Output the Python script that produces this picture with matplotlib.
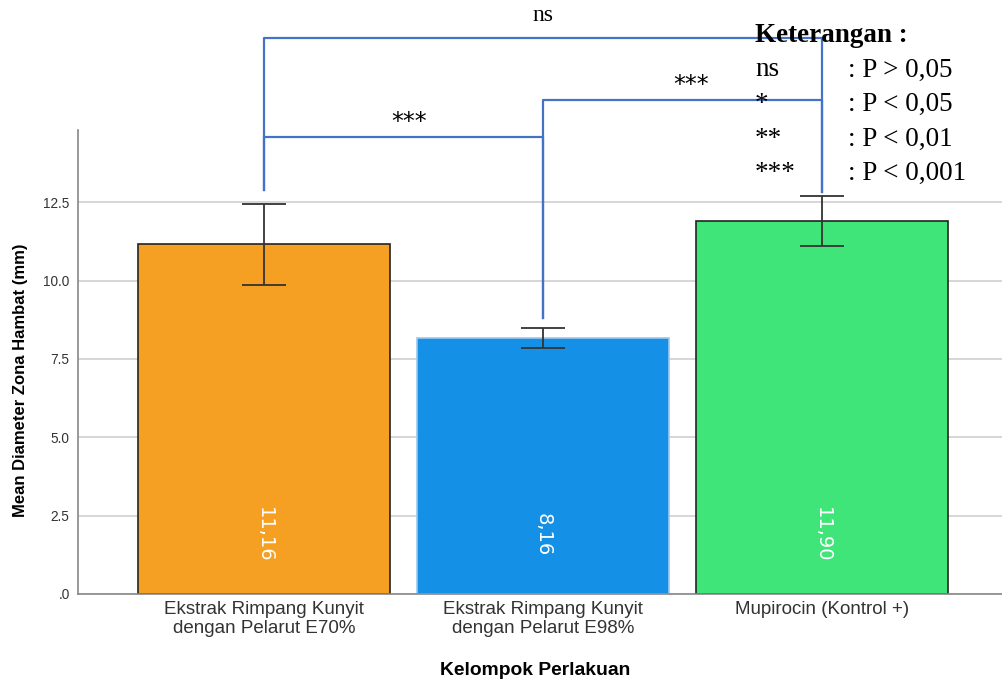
import numpy as np
import matplotlib.pyplot as plt

# data
groups = ["Ekstrak Rimpang Kunyit\ndengan Pelarut E70%",
          "Ekstrak Rimpang Kunyit\ndengan Pelarut E98%",
          "Mupirocin (Kontrol +)"]
means = [11.16, 8.16, 11.90]
errs = [1.29, 0.32, 0.80]
value_labels = ["11,16", "8,16", "11,90"]
bar_colors = ["#F5A023", "#1490E6", "#40E57A"]
edge_colors = ["#222222", "#9CC8EE", "#222222"]

# significance brackets: (left bar, right bar, height, left foot, right foot, label)
brackets = [
    (0, 2, 17.73, 12.88, 12.82, "ns"),
    (0, 1, 14.57, 12.88, 8.80, "***"),
    (1, 2, 15.78, 8.80, 12.82, "***"),
]
legend_rows = [("ns", ": P > 0,05"), ("*", ": P < 0,05"),
               ("**", ": P < 0,01"), ("***", ": P < 0,001")]

plt.rcParams['font.family'] = ['Liberation Sans', 'DejaVu Sans']

fig = plt.figure(figsize=(10.03, 6.84), dpi=100)
ax = fig.add_axes([0.0778, 0.1316, 0.93, 0.678])

x = np.arange(len(groups))
ax.bar(x, means, width=0.903, color=bar_colors, edgecolor=edge_colors, linewidth=1.2, zorder=2)
ax.errorbar(x, means, yerr=errs, fmt='none', ecolor='#333333', elinewidth=1.3,
            capsize=16, capthick=1.3, zorder=3)

for xi, m, lab in zip(x, means, value_labels):
    ax.text(xi, 1.88, lab, rotation=270, color='white', fontsize=14,
            family='DejaVu Sans', ha='center', va='center', zorder=4)

ax.set_ylim(0, 14.8)
ax.set_xlim(-0.667, 2.677)
ticks = [0, 2.5, 5.0, 7.5, 10.0, 12.5]
ax.set_yticks(ticks)
ax.set_yticklabels([".0", "2.5", "5.0", "7.5", "10.0", "12.5"], fontsize=9.8, color='#333333')
ax.yaxis.grid(True, color='#d0d0d0', linewidth=1.2, zorder=0)
ax.set_axisbelow(True)
ax.tick_params(axis='y', length=0, pad=6)
ax.tick_params(axis='x', length=0, pad=5)
ax.set_xticks(x)
ax.set_xticklabels(groups, fontsize=13.5, color='#333333', linespacing=1.15)
for s in ['top', 'right']:
    ax.spines[s].set_visible(False)
for s in ['left', 'bottom']:
    ax.spines[s].set_color('#888888')
    ax.spines[s].set_linewidth(1.2)

ax.set_ylabel("Mean Diameter Zona Hambat (mm)", fontsize=12, fontweight='bold')
ax.yaxis.set_label_coords(-0.054, 0.461)
ax.set_xlabel("Kelompok Perlakuan", fontsize=13.9, fontweight='bold')
ax.xaxis.set_label_coords(0.49, -0.147)

line_c = '#4472C4'
for a, b, h, fa, fb, lab in brackets:
    ax.plot([a, a, b, b], [fa, h, h, fb], color=line_c, linewidth=1.6,
            clip_on=False, zorder=5)

ax.text(1.0, 18.45, "ns", fontsize=17, family='Liberation Serif', ha='center', va='center', clip_on=False)
ax.text(0.52, 15.05, "***", fontsize=17, family='DejaVu Sans', ha='center', va='center', clip_on=False)
ax.text(1.53, 16.25, "***", fontsize=17, family='DejaVu Sans', ha='center', va='center', clip_on=False)

# legend text (figure coords)
fig.text(755 / 1003, 1 - 36 / 684, "Keterangan :", fontsize=19.5, fontweight='bold',
         family='Liberation Serif', va='center', ha='left')
for i, (sym, desc) in enumerate(legend_rows):
    yy = 1 - (70 + i * 34.5) / 684
    fig.text(755 / 1003, yy, sym, fontsize=19.5, family='Liberation Serif', va='center', ha='left')
    fig.text(848 / 1003, yy, desc, fontsize=19.5, family='Liberation Serif', va='center', ha='left')

fig.savefig("out.png", dpi=100)
